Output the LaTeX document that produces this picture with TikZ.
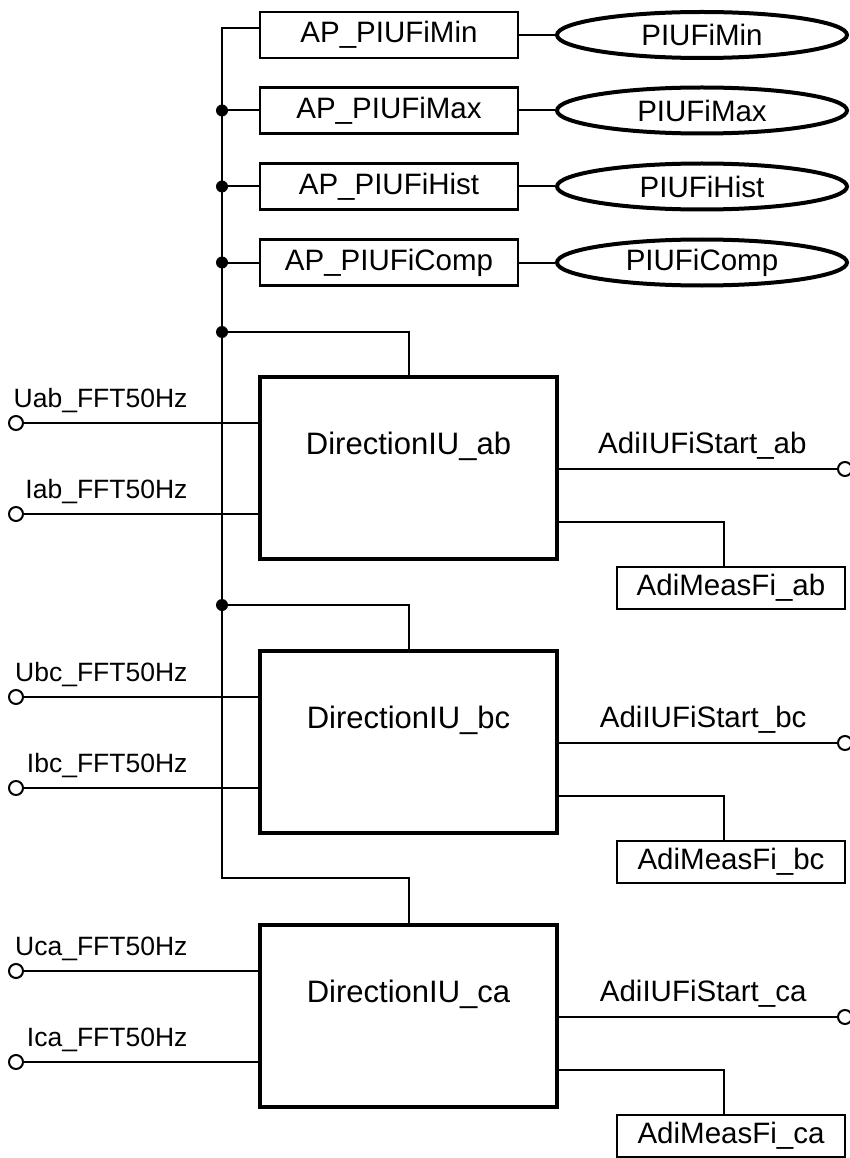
\documentclass[tikz,border=0pt]{standalone}
\usepackage{fontspec}
\setmainfont{Liberation Sans}
\usetikzlibrary{positioning,shapes.geometric}
\tikzset{
  apbox/.style={draw, line width=2.5pt, minimum width=258pt, minimum height=46pt, inner sep=0pt},
  parell/.style={draw, ellipse, line width=4pt, minimum width=290pt, minimum height=46pt, inner sep=0pt},
  dirbox/.style={draw, line width=4.5pt, minimum width=297pt, minimum height=182pt, inner sep=0pt},
  dirtext/.style={font=\fontsize{31}{35}\selectfont},
  inlabel/.style={anchor=base east, font=\fontsize{26.5}{30}\selectfont},
  measbox/.style={draw, line width=2.5pt, minimum width=228pt, minimum height=42pt, inner sep=0pt},
  port/.style={draw, circle, line width=2pt, minimum size=14pt, inner sep=0pt},
  wire/.style={line width=2pt},
}

\begin{document}
\begin{tikzpicture}[x=1pt, y=-1pt, every node/.style={font=\fontsize{29.5}{33}\selectfont}]
        \useasboundingbox (0,0) rectangle (849,1158);
        % parameter blocks
        \foreach \nm/\yy in {Min/35, Max/110.5, Hist/186.5, Comp/262.5}{
            \node[apbox] (ap\nm) at (389,\yy) {AP\_PIUFi\nm};
            \node[parell] (pi\nm) at (702,\yy) {PIUFi\nm};
            \draw[wire] (ap\nm) -- (pi\nm);
        }
        % direction blocks
        \foreach \ph/\yc in {ab/468, bc/742, ca/1016}{
            \node[dirbox] (d\ph) at (408.5,\yc) {};
            \node[dirtext] at ([yshift=22pt]d\ph.center) {DirectionIU\_\ph};
            \node[port] (u\ph) at (16,\yc-45) {};
            \node[port] (i\ph) at (16,\yc+46) {};
            \draw[wire] (u\ph) -- (u\ph -| d\ph.west);
            \draw[wire] (i\ph) -- (i\ph -| d\ph.west);
            \node[inlabel] at (191,\yc-61) {U\ph\_FFT50Hz};
            \node[inlabel] at (191,\yc+30) {I\ph\_FFT50Hz};
            \node[port] (s\ph) at (845,\yc+1) {};
            \draw[wire] (d\ph.east |- s\ph) -- (s\ph);
            \node[anchor=base east] at (810,\yc-15) {AdiIUFiStart\_\ph};
            \node[measbox] (m\ph) at (731,\yc+120) {AdiMeasFi\_\ph};
            \draw[wire] ([yshift=-54pt]d\ph.east) -| ([xshift=-7pt]m\ph.north);
        }
        % bus
        \coordinate (bustop) at (222,28);
        \coordinate (busend) at (222,878);
        \draw[wire] (apMin.west |- bustop) -- (bustop) -- (busend) -| (dca.north);
        \foreach \nm in {Max, Hist, Comp}{
            \fill (bustop |- ap\nm.west) circle (6);
            \draw[wire] (bustop |- ap\nm.west) -- (ap\nm.west);
        }
        \coordinate (jab) at (222,332);
        \coordinate (jbc) at (222,605);
        \fill (jab) circle (6);
        \fill (jbc) circle (6);
        \draw[wire] (jab) -| (dab.north);
        \draw[wire] (jbc) -| (dbc.north);
    \end{tikzpicture}
\end{document}
